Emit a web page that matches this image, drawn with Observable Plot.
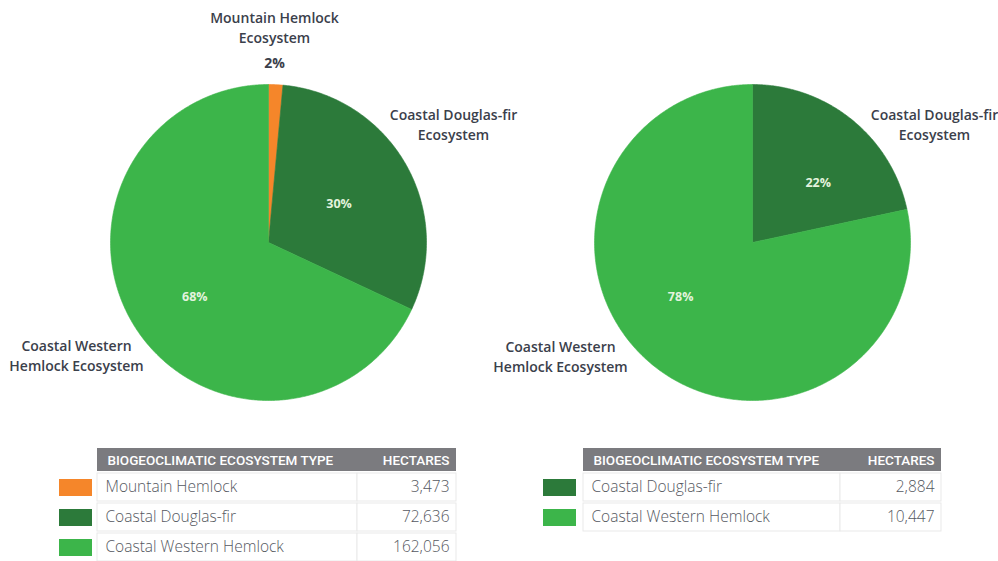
<!DOCTYPE html>
<html>
<head>
<meta charset="utf-8">
<script src="https://cdn.jsdelivr.net/npm/d3@7"></script>
<script src="https://cdn.jsdelivr.net/npm/@observablehq/plot@0.6"></script>
<style>
  html, body { margin: 0; padding: 0; background: #ffffff; }
  #chart svg { display: block; }
</style>
</head>
<body>
<div id="chart"></div>
<script>
// ---------- data ----------
const leftTypes = ["Mountain Hemlock", "Coastal Douglas-fir", "Coastal Western Hemlock"];
const leftHectares = [3473, 72636, 162056];
const leftPercentLabels = ["2%", "30%", "68%"];
const leftOutsideLabels = ["Mountain Hemlock\nEcosystem", "Coastal Douglas-fir\nEcosystem", "Coastal Western\nHemlock Ecosystem"];

const rightTypes = ["Coastal Douglas-fir", "Coastal Western Hemlock"];
const rightHectares = [2884, 10447];
const rightPercentLabels = ["22%", "78%"];
const rightOutsideLabels = ["Coastal Douglas-fir\nEcosystem", "Coastal Western\nHemlock Ecosystem"];

const tableHeader = ["BIOGEOCLIMATIC ECOSYSTEM TYPE", "HECTARES"];
const typeColors = {
  "Mountain Hemlock": "#f5862a",
  "Coastal Douglas-fir": "#2c7a3a",
  "Coastal Western Hemlock": "#3cb54a"
};

// ---------- layout ----------
const W = 998, H = 561;
const pies = [
  {key: "L", cx: 268, cy: 242, r: 158, types: leftTypes, values: leftHectares, pct: leftPercentLabels,
   outside: leftOutsideLabels, lab: [0.57, 0.51, 0.58], labTurn: [0, 1, -4],
   outPos: [{x: 274, y: 26}, {x: 453, y: 123}, {x: 76, y: 354}]},
  {key: "R", cx: 752, cy: 242, r: 158, types: rightTypes, values: rightHectares, pct: rightPercentLabels,
   outside: rightOutsideLabels, lab: [0.56, 0.57], labTurn: [9, 14],
   outPos: [{x: 934, y: 123}, {x: 560, y: 355}]}
];
const tables = [
  {key: "L", types: leftTypes, values: leftHectares, x0: 97, x1: 456, div: 357, sw0: 59, sw1: 92},
  {key: "R", types: rightTypes, values: rightHectares, x0: 583, x1: 941, div: 840, sw0: 543, sw1: 576}
];
const headY1 = 448, headY2 = 471, rowTop = 473, rowH = 30;

// slice polygons from d3.pie
const slicePts = [], pctText = [], outText = [];
for (const p of pies) {
  const arcs = d3.pie().sort(null).value(d => d)(p.values);
  arcs.forEach((a, i) => {
    const id = p.key + i, color = typeColors[p.types[i]];
    slicePts.push({id, color, x: p.cx, y: p.cy});
    const n = Math.max(2, Math.ceil((a.endAngle - a.startAngle) / 0.01));
    for (let k = 0; k <= n; k++) {
      const t = a.startAngle + (a.endAngle - a.startAngle) * k / n;
      slicePts.push({id, color, x: p.cx + p.r * Math.sin(t), y: p.cy - p.r * Math.cos(t)});
    }
    slicePts.push({id, color, x: p.cx, y: p.cy});
    const mid = (a.startAngle + a.endAngle) / 2 + p.labTurn[i] * Math.PI / 180;
    const lr = p.r * p.lab[i];
    if (a.endAngle - a.startAngle > 0.3) {
      pctText.push({x: p.cx + lr * Math.sin(mid), y: p.cy - lr * Math.cos(mid), label: p.pct[i]});
    }
    const o = p.outPos[i];
    outText.push({x: o.x, y: o.y, label: p.outside[i]});
    if (a.endAngle - a.startAngle <= 0.3) {
      outText.push({x: o.x, y: o.y + 37, label: p.pct[i], bold: true});
    }
  });
}

// table rows
const headers = [], rows = [];
for (const t of tables) {
  headers.push({x0: t.x0, x1: t.x1, y1: headY1, y2: headY2, a: tableHeader[0], b: tableHeader[1]});
  t.types.forEach((ty, i) => {
    rows.push({x0: t.x0, x1: t.x1, div: t.div, sw0: t.sw0, sw1: t.sw1,
      y1: rowTop + i * rowH, y2: rowTop + (i + 1) * rowH - 2, yc: rowTop + i * rowH + rowH / 2 - 1,
      type: ty, value: d3.format(",")(t.values[i]), color: typeColors[ty]});
  });
}

const FONT = "'Open Sans', 'Noto Sans', sans-serif";
const chart = Plot.plot({
  width: W, height: H,
  marginTop: 0, marginRight: 0, marginBottom: 0, marginLeft: 0,
  x: {domain: [0, W], range: [0, W], axis: null},
  y: {domain: [0, H], range: [0, H], axis: null},
  color: {type: "identity"},
  style: {background: "#ffffff"},
  marks: [
    Plot.line(slicePts, {x: "x", y: "y", z: "id", fill: "color", stroke: "color", strokeWidth: 0.6, curve: "linear"}),
    Plot.text(pctText, {x: "x", y: "y", text: "label", fill: "#e3f3de", fontSize: 12.5, fontWeight: 700, fontFamily: FONT}),
    Plot.text(outText.filter(d => !d.bold), {x: "x", y: "y", text: "label", fill: "#3b404b", fontSize: 14, fontWeight: 600,
      fontFamily: FONT, lineHeight: 1.4, lineAnchor: "middle"}),
    Plot.text(outText.filter(d => d.bold), {x: "x", y: "y", text: "label", fill: "#3b404b", fontSize: 14, fontWeight: 700,
      fontFamily: FONT}),
    // table header
    Plot.rect(headers, {x1: "x0", x2: "x1", y1: "y1", y2: "y2", fill: "#7b7b7f"}),
    Plot.text(headers, {x: d => d.x0 + 10, y: d => (d.y1 + d.y2) / 2 + 1, text: "a", textAnchor: "start", fill: "#ffffff",
      fontSize: 13.5, fontWeight: 500, fontFamily: "Roboto, sans-serif"}),
    Plot.text(headers, {x: d => d.x1 - 7, y: d => (d.y1 + d.y2) / 2 + 1, text: "b", textAnchor: "end", fill: "#ffffff",
      fontSize: 13.5, fontWeight: 500, fontFamily: "Roboto, sans-serif"}),
    // table rows
    Plot.rect(rows, {x1: "x0", x2: "div", y1: "y1", y2: "y2", fill: "#ffffff", stroke: "#e9e9e9", strokeWidth: 1}),
    Plot.rect(rows, {x1: "div", x2: "x1", y1: "y1", y2: "y2", fill: "#ffffff", stroke: "#e9e9e9", strokeWidth: 1}),
    Plot.rect(rows, {x1: "sw0", x2: "sw1", y1: d => d.yc - 8, y2: d => d.yc + 9, fill: "color"}),
    Plot.text(rows, {x: d => d.x0 + 8, y: "yc", text: "type", textAnchor: "start", fill: "#555861", fontSize: 15.5,
      fontWeight: 300, fontFamily: FONT}),
    Plot.text(rows, {x: d => d.x1 - 7, y: "yc", text: "value", textAnchor: "end", fill: "#555861", fontSize: 15.5,
      fontWeight: 300, fontFamily: FONT})
  ]
});
document.getElementById("chart").appendChild(chart);
</script>
</body>
</html>
